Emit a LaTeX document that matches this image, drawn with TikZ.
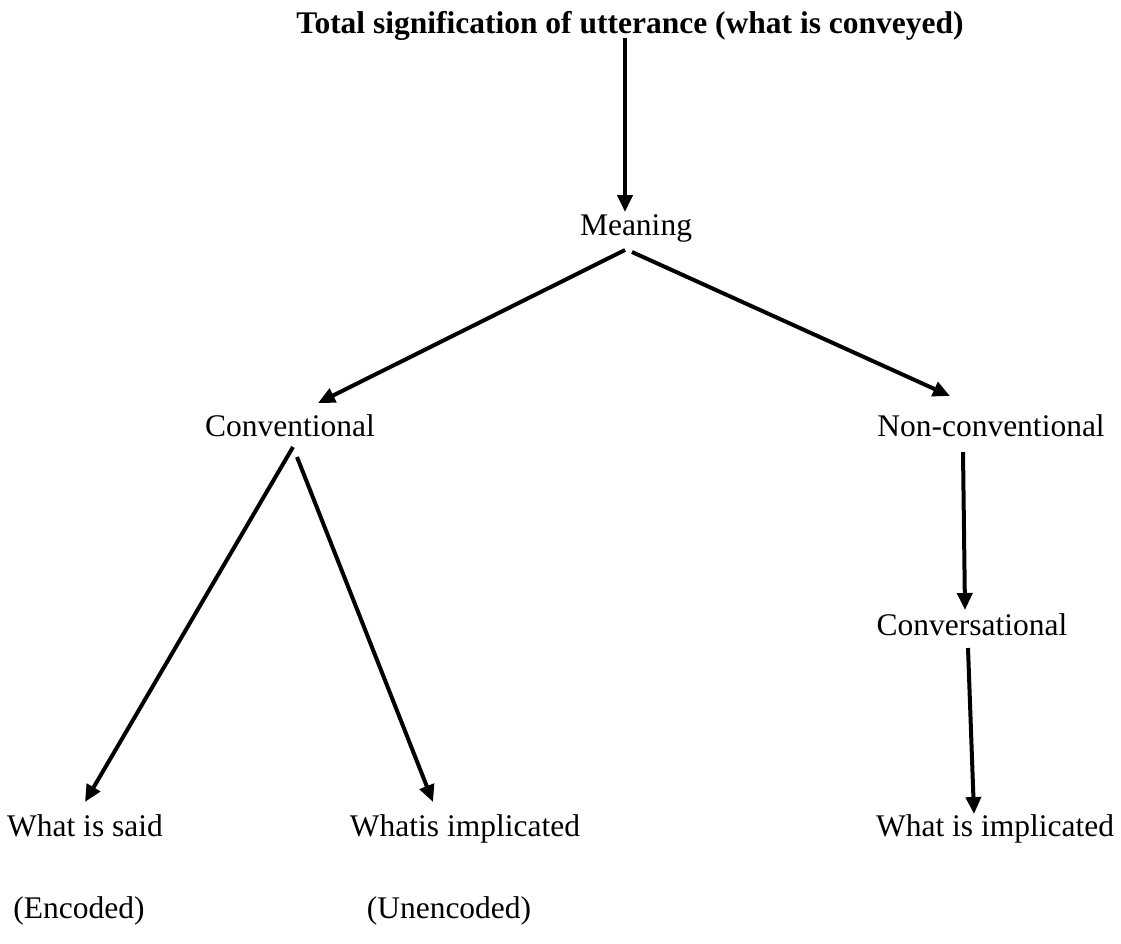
\documentclass[tikz,border=0pt]{standalone}
\usepackage{fontspec}
\setmainfont{Liberation Serif}
\usetikzlibrary{arrows.meta,calc}
\begin{document}
\begin{tikzpicture}[x=1pt,y=-1pt,
  lbl/.style={inner sep=0pt, anchor=base, font=\fontsize{31.5}{38}\selectfont},
  arr/.style={line width=4pt, -{Triangle[length=17pt,width=15pt]}}]
\useasboundingbox (0,0) rectangle (1121,943);
\node[lbl, font=\fontsize{31.5}{38}\selectfont\bfseries] (title) at (630,33) {Total signification of utterance (what is conveyed)};
\node[lbl] (meaning) at (636,235) {Meaning};
\node[lbl] (conv) at (290,436) {Conventional};
\node[lbl] (nonconv) at (991,436) {Non-conventional};
\node[lbl] (convers) at (972,635) {Conversational};
\node[lbl] (said) at (85,836) {What is said};
\node[lbl] (impl1) at (465,836) {Whatis implicated};
\node[lbl] (impl2) at (995,836) {What is implicated};
\node[lbl] (enc) at (79,918) {(Encoded)};
\node[lbl] (unenc) at (449,918) {(Unencoded)};
\draw[arr] ($(title.base)+(-5,5)$) -- ($(meaning.base)+(-11,-23)$);
\draw[arr] ($(meaning.base)+(-11,15)$) -- ($(conv.base)+(28,-33)$);
\draw[arr] ($(meaning.base)+(-4,17)$) -- ($(nonconv.base)+(-41,-40)$);
\draw[arr] ($(conv.base)+(3,11)$) -- ($(said.base)+(0,-34)$);
\draw[arr] ($(conv.base)+(7,21)$) -- ($(impl1.base)+(-32,-34)$);
\draw[arr] ($(nonconv.base)+(-28,16)$) -- ($(convers.base)+(-7,-25)$);
\draw[arr] ($(convers.base)+(-4,13)$) -- ($(impl2.base)+(-21,-22)$);
\end{tikzpicture}
\end{document}
